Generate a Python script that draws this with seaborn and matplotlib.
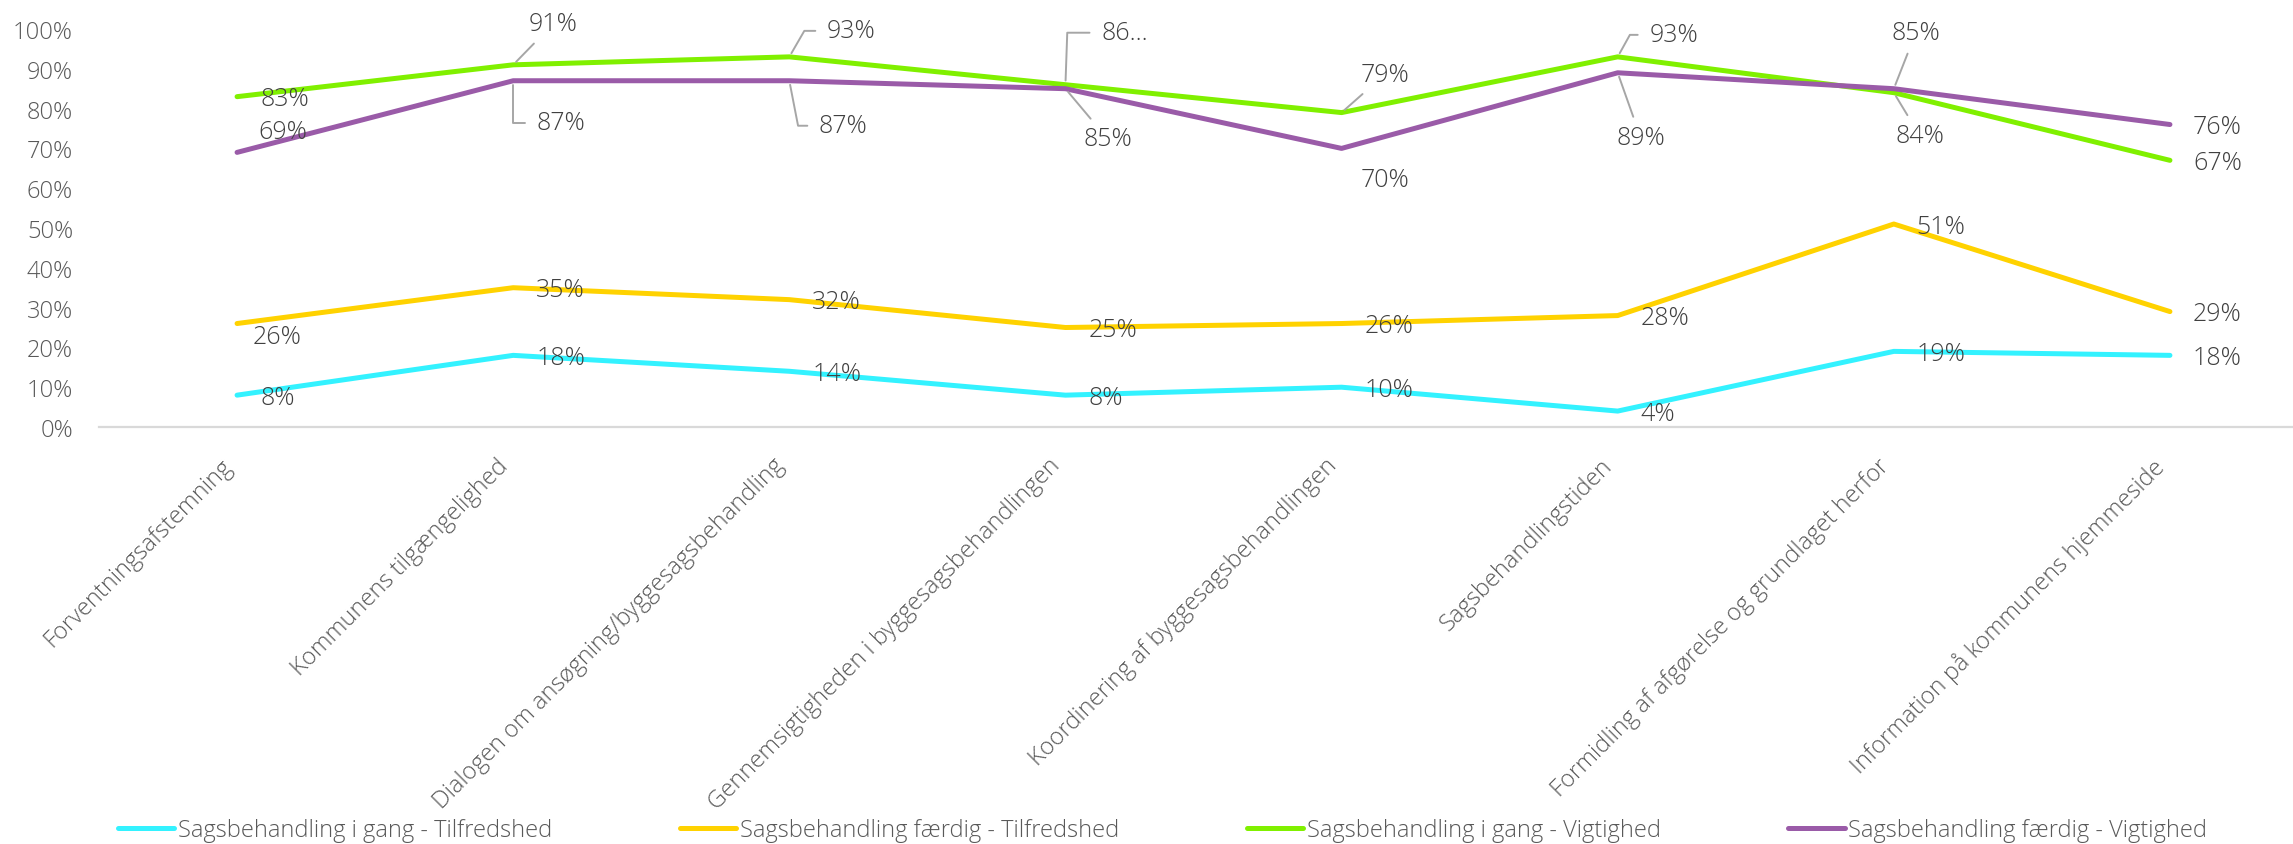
import pandas as pd
import seaborn as sns
import matplotlib.pyplot as plt
import matplotlib.transforms as mtransforms
from matplotlib.ticker import PercentFormatter

# data
kategorier = [
    "Forventningsafstemning",
    "Kommunens tilgængelighed",
    "Dialogen om ansøgning/byggesagsbehandling",
    "Gennemsigtigheden i byggesagsbehandlingen",
    "Koordinering af byggesagsbehandlingen",
    "Sagsbehandlingstiden",
    "Formidling af afgørelse og grundlaget herfor",
    "Information på kommunens hjemmeside",
]
serier = [
    "Sagsbehandling i gang - Tilfredshed",
    "Sagsbehandling færdig - Tilfredshed",
    "Sagsbehandling i gang - Vigtighed",
    "Sagsbehandling færdig - Vigtighed",
]
i_gang_tilfredshed = [0.08, 0.18, 0.14, 0.08, 0.10, 0.04, 0.19, 0.18]
faerdig_tilfredshed = [0.26, 0.35, 0.32, 0.25, 0.26, 0.28, 0.51, 0.29]
i_gang_vigtighed = [0.83, 0.91, 0.93, 0.86, 0.79, 0.93, 0.84, 0.67]
faerdig_vigtighed = [0.69, 0.87, 0.87, 0.85, 0.70, 0.89, 0.85, 0.76]
y_ticks = [0.0, 0.1, 0.2, 0.3, 0.4, 0.5, 0.6, 0.7, 0.8, 0.9, 1.0]

vaerdier = [i_gang_tilfredshed, faerdig_tilfredshed, i_gang_vigtighed, faerdig_vigtighed]
farver = ["#33F2FF", "#FFD200", "#80F000", "#9A5BA8"]

# afkortede etiketter som i originalen
afkortet = {(2, 3): "86..."}

# etiketplacering (pixels, y op): (dx, dy, leader); standard = til højre for punktet
placering = {
    (1, 0): (40, -13, None),
    (2, 1): (40, 41, "line"),
    (2, 2): (62, 26, 60),
    (2, 3): (59, 52, 88),
    (2, 4): (43, 38, "line"),
    (2, 5): (56, 22, 61),
    (2, 6): (26, -43, "line"),
    (3, 0): (46, 21, None),
    (3, 1): (48, -42, 90),
    (3, 2): (54, -45, -79),
    (3, 3): (42, -50, "line"),
    (3, 4): (43, -31, None),
    (3, 5): (23, -65, "line"),
    (3, 6): (22, 56, "line"),
}

rows = []
for s, vals in zip(serier, vaerdier):
    for i, v in enumerate(vals):
        rows.append({"pos": i, "Andel": v, "Serie": s})
df = pd.DataFrame(rows)

sns.set_style("white")
plt.rcParams["font.family"] = ["Open Sans", "DejaVu Sans"]
fs = 18
fs_akse = 17
tekst_farve = "#404040"
akse_farve = "#595959"

fig = plt.figure(figsize=(22.93, 8.45), dpi=100)
ax = fig.add_axes([99 / 2293, 1 - 428 / 845, (2308 - 99) / 2293, 398 / 845])

sns.lineplot(data=df, x="pos", y="Andel", hue="Serie", hue_order=serier,
             palette=farver, linewidth=3.6, sort=False, ax=ax)
for line in ax.lines:
    line.set_solid_capstyle("round")

ax.set_xlim(-0.5, 7.5)
ax.set_ylim(0, 1)
ax.set_xticks(range(len(kategorier)))
ax.set_xticklabels(kategorier, rotation=45, ha="right", fontsize=fs_akse,
                   color=akse_farve, fontweight="light")
forskyd = mtransforms.ScaledTranslation(8 / 100, 0, fig.dpi_scale_trans)
for lab in ax.get_xticklabels():
    lab.set_transform(lab.get_transform() + forskyd)
ax.set_yticks(y_ticks)
ax.yaxis.set_major_formatter(PercentFormatter(1.0, decimals=0))
for lab in ax.get_yticklabels():
    lab.set_fontsize(fs_akse)
    lab.set_color(akse_farve)
    lab.set_fontweight("light")
ax.tick_params(axis="y", length=0, pad=18.7)
ax.tick_params(axis="x", length=0, pad=19)
ax.set_xlabel("")
ax.set_ylabel("")
sns.despine(ax=ax, left=True)
ax.spines["bottom"].set_color("#D9D9D9")
ax.spines["bottom"].set_linewidth(1.6)

# dataetiketter
for si, vals in enumerate(vaerdier):
    for ci, v in enumerate(vals):
        txt = afkortet.get((si, ci), f"{round(v * 100)}%")
        if (si, ci) in placering:
            dx, dy, leader = placering[(si, ci)]
            ha = "center"
        else:
            dx, dy, leader = 23, -2, None
            ha = "left"
        props = None
        if leader == "line":
            props = dict(arrowstyle="-", color="#A6A6A6", lw=1.4,
                         shrinkA=4, shrinkB=3)
        elif leader is not None:
            props = dict(arrowstyle="-", color="#A6A6A6", lw=1.4,
                         shrinkA=6, shrinkB=3,
                         connectionstyle=f"angle,angleA=0,angleB={leader},rad=0")
        ax.annotate(txt, xy=(ci, v), xytext=(dx, dy), textcoords="offset pixels",
                    ha=ha, va="center", fontsize=fs, color=tekst_farve,
                    fontweight="light", arrowprops=props, annotation_clip=False)

handles, labels = ax.get_legend_handles_labels()
ax.get_legend().remove()
fig.legend(handles, labels, loc="center", bbox_to_anchor=(0.507, 0.016),
           ncol=4, frameon=False, handlelength=2.4, handletextpad=0.15,
           columnspacing=5.4, prop={"size": fs_akse, "weight": "light"},
           labelcolor=akse_farve)

fig.savefig("out.png", dpi=100)
